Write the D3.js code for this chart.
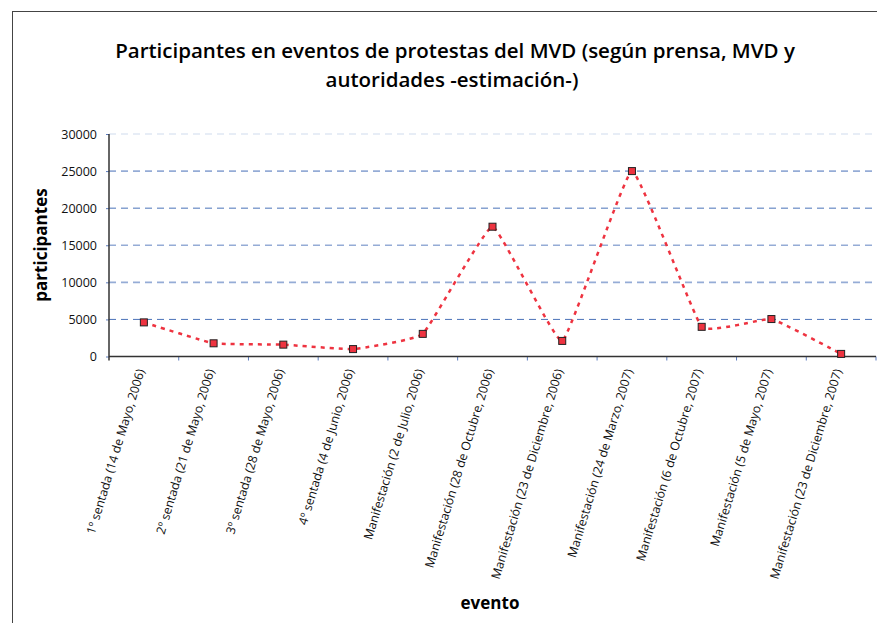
<!DOCTYPE html>
<html>
<head>
<meta charset="utf-8">
<script src="https://cdn.jsdelivr.net/npm/d3@7"></script>
<style>
  body { margin: 0; background: #fff; }
  svg text { font-family: "Open Sans", sans-serif; }
</style>
</head>
<body>
<div id="chart"></div>
<script>
var svgWidth = 877;
var svgHeight = 623;

// data
var eventos = [
  "1º sentada (14 de Mayo, 2006)",
  "2º sentada (21 de Mayo, 2006)",
  "3º sentada (28 de Mayo, 2006)",
  "4º sentada (4 de Junio, 2006)",
  "Manifestación (2 de Julio, 2006)",
  "Manifestación (28 de Octubre, 2006)",
  "Manifestación (23 de Diciembre, 2006)",
  "Manifestación (24 de Marzo, 2007)",
  "Manifestación (6 de Octubre, 2007)",
  "Manifestación (5 de Mayo, 2007)",
  "Manifestación (23 de Diciembre, 2007)"
];
var participantes = [4600, 1780, 1600, 1000, 3050, 17500, 2100, 25000, 4000, 5050, 350];
var yTicks = [0, 5000, 10000, 15000, 20000, 25000, 30000];

var margin = { top: 134, left: 109, right: 1, bottom: 266 };
var width = svgWidth - margin.left - margin.right;
var height = 356.5 - margin.top;

var svg = d3.select("#chart")
  .append("svg")
  .attr("width", svgWidth)
  .attr("height", svgHeight);

// frame
svg.append("rect")
  .attr("x", 12.5).attr("y", 11.5)
  .attr("width", 900).attr("height", 700)
  .attr("fill", "none")
  .attr("stroke", "#444")
  .attr("stroke-width", 1);

// title
var title = svg.append("text")
  .attr("text-anchor", "middle")
  .attr("font-size", "20.5px")
  .attr("font-weight", 600)
  .attr("fill", "#000");
title.append("tspan").attr("x", 455).attr("y", 58)
  .text("Participantes en eventos de protestas del MVD (según prensa, MVD y");
title.append("tspan").attr("x", 452).attr("y", 87)
  .text("autoridades -estimación-)");

var chartGroup = svg.append("g")
  .attr("transform", `translate(${margin.left}, ${margin.top})`);

var xScale = d3.scaleBand()
  .domain(eventos)
  .range([0, width]);

var yScale = d3.scaleLinear()
  .domain([0, 30000])
  .range([height, 0]);

// gridlines
var gridColor = function(d) {
  if (d === 30000) return "#dfe7f3";
  if (d === 5000 || d === 20000) return "#4a72b8";
  return "#95acd6";
};
chartGroup.selectAll(".grid")
  .data(yTicks.filter(d => d > 0))
  .enter()
  .append("line")
  .attr("x1", 0).attr("x2", width)
  .attr("y1", d => yScale(d)).attr("y2", d => yScale(d))
  .attr("stroke", gridColor)
  .attr("stroke-width", d => (d === 5000 || d === 20000) ? 1 : 1.6)
  .attr("stroke-dasharray", "7,5");

// axes
var leftAxis = d3.axisLeft(yScale).tickValues(yTicks).tickSize(3).tickPadding(9).tickFormat(d3.format("d"));
var yAxisG = chartGroup.append("g").call(leftAxis);
yAxisG.select(".domain").remove();
yAxisG.selectAll(".tick line").attr("stroke", "#5b7bbd");
yAxisG.selectAll(".tick text").attr("font-size", "12.5px").attr("fill", "#111");

// category boundary ticks
chartGroup.selectAll(".xtick")
  .data(eventos)
  .enter()
  .append("line")
  .attr("x1", d => xScale(d) + xScale.bandwidth())
  .attr("x2", d => xScale(d) + xScale.bandwidth())
  .attr("y1", height).attr("y2", height + 4)
  .attr("stroke", "#5b7bbd");

chartGroup.append("line")
  .attr("x1", 0).attr("x2", width)
  .attr("y1", height).attr("y2", height)
  .attr("stroke", "#333").attr("stroke-width", 1.5);
chartGroup.append("line")
  .attr("x1", 0).attr("x2", 0)
  .attr("y1", 0).attr("y2", height + 4)
  .attr("stroke", "#333").attr("stroke-width", 1.5);

// x labels
chartGroup.selectAll(".xlabel")
  .data(eventos)
  .enter()
  .append("text")
  .attr("transform", d => `translate(${xScale(d) + xScale.bandwidth() / 2 + 1}, ${height + 14}) rotate(-73)`)
  .attr("text-anchor", "end")
  .attr("font-size", "12.3px")
  .attr("fill", "#111")
  .text(d => d);

// line (smoothed)
var line = d3.line()
  .x((d, i) => xScale(eventos[i]) + xScale.bandwidth() / 2)
  .y(d => yScale(d))
  .curve(d3.curveCardinal.tension(0.7));

chartGroup.append("path")
  .datum(participantes)
  .attr("d", line)
  .attr("fill", "none")
  .attr("stroke", "#ee3340")
  .attr("stroke-width", 2.5)
  .attr("stroke-dasharray", "4,5");

// markers
chartGroup.selectAll(".pt")
  .data(participantes)
  .enter()
  .append("rect")
  .attr("x", (d, i) => xScale(eventos[i]) + xScale.bandwidth() / 2 - 3.5)
  .attr("y", d => yScale(d) - 3.5)
  .attr("width", 7).attr("height", 7)
  .attr("fill", "#ee3340")
  .attr("stroke", "#222")
  .attr("stroke-width", 1);

// axis titles
svg.append("text")
  .attr("transform", `translate(47, 245) rotate(-90)`)
  .attr("text-anchor", "middle")
  .attr("font-size", "17px")
  .attr("font-weight", "bold")
  .text("participantes");

svg.append("text")
  .attr("x", 490).attr("y", 609)
  .attr("text-anchor", "middle")
  .attr("font-size", "17px")
  .attr("font-weight", "bold")
  .text("evento");
</script>
</body>
</html>
